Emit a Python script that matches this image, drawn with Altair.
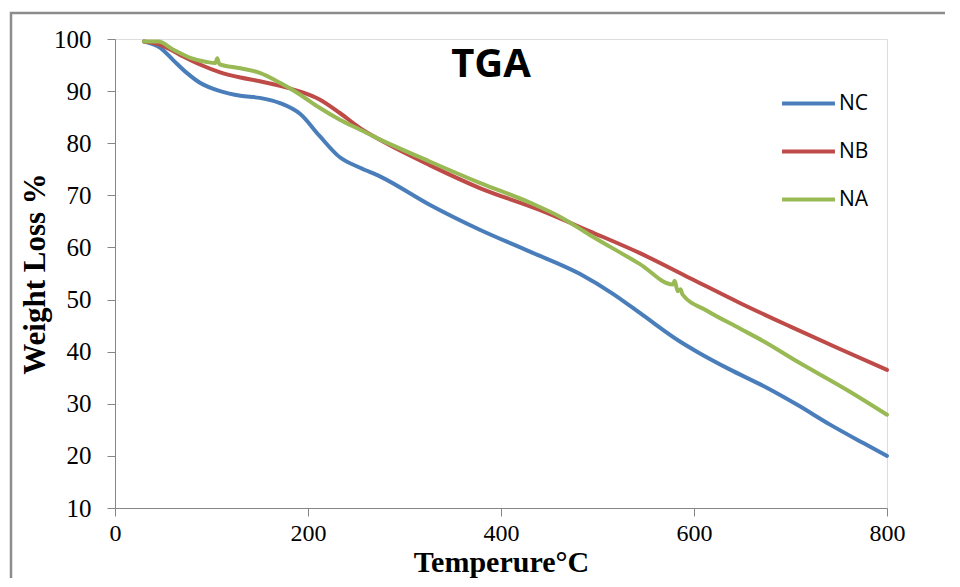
import altair as alt
import pandas as pd

# NC (blue)
nc_t = [30, 47, 60, 75, 88, 109, 130, 150, 171, 192, 212, 233, 254, 275, 326, 378,
        430, 482, 516, 547, 585, 603, 637, 672, 707, 741, 775, 800]
nc_w = [99.5, 98.3, 96.0, 93.4, 91.6, 90.0, 89.1, 88.7, 87.7, 85.6, 81.4, 77.3, 75.3,
        73.6, 68.2, 63.4, 59.2, 54.9, 51.1, 47.0, 42.0, 40.0, 36.6, 33.4, 29.8, 26.0, 22.5, 20.0]

# NB (red)
nb_t = [30, 47, 67, 88, 109, 130, 150, 171, 192, 212, 233, 254, 275, 326, 378, 440,
        492, 544, 596, 648, 700, 750, 800]
nb_w = [99.5, 98.9, 97.0, 95.1, 93.6, 92.6, 91.9, 91.0, 89.9, 88.4, 85.8, 82.9, 80.6,
        75.8, 71.4, 67.2, 63.1, 58.9, 54.1, 49.3, 44.8, 40.6, 36.5]

# NA (green)
na_t = [30, 45, 60, 78, 95, 104, 106, 108, 130, 150, 171, 192, 212, 233, 254, 275, 326,
        378, 430, 461, 492, 544, 578, 580, 583, 586, 588, 613, 648, 672, 707, 759, 800]
na_w = [99.5, 99.5, 98.0, 96.4, 95.6, 95.4, 96.3, 95.2, 94.4, 93.5, 91.6, 89.3, 86.8,
        84.5, 82.6, 80.7, 76.5, 72.4, 68.6, 65.9, 62.4, 56.8, 52.9, 53.6, 51.6, 52.0,
        51.0, 47.9, 44.4, 42.0, 38.1, 32.6, 27.9]

series = ["NC", "NB", "NA"]
colors = ["#4a7ebb", "#be4b48", "#98b954"]
title_text = "TGA"

rows = []
for name, ts, ws in [("NC", nc_t, nc_w), ("NB", nb_t, nb_w), ("NA", na_t, na_w)]:
    for t, w in zip(ts, ws):
        rows.append({"series": name, "T": t, "W": w})
df = pd.DataFrame(rows)

W_PLOT, H_PLOT = 772, 469

lines = alt.Chart(df).mark_line(strokeWidth=4, interpolate="monotone", strokeCap="round").encode(
    x=alt.X("T:Q", scale=alt.Scale(domain=[0, 800], nice=False),
            axis=alt.Axis(values=[0, 200, 400, 600, 800], title="Temperure°C",
                          titleFont="Liberation Serif", titleFontSize=30, titleFontWeight="bold",
                          titleColor="black", titlePadding=2,
                          labelFont="Liberation Serif", labelFontSize=24, labelColor="black",
                          labelPadding=5, labelFlush=False, tickSize=8, tickColor="#868686",
                          domainColor="#868686", grid=False)),
    y=alt.Y("W:Q", scale=alt.Scale(domain=[10, 100], nice=False),
            axis=alt.Axis(values=list(range(10, 101, 10)), title="Weight Loss %",
                          titleFont="Liberation Serif", titleFontSize=31, titleFontWeight="bold",
                          titleColor="black", titlePadding=2,
                          labelFont="Liberation Serif", labelFontSize=25, labelColor="black",
                          labelPadding=16, labelFlush=False, tickSize=8, tickColor="#868686",
                          domainColor="#868686", grid=False)),
    color=alt.Color("series:N", scale=alt.Scale(domain=series, range=colors), sort=series,
                    legend=alt.Legend(title=None, orient="none", legendX=665, legendY=36,
                                      symbolType="stroke", symbolSize=2800, symbolStrokeWidth=4,
                                      labelFont="Open Sans", labelFontSize=21, labelColor="black",
                                      labelOffset=2, rowPadding=9)),
)

title = alt.Chart(pd.DataFrame({"label": [title_text]})).mark_text(
    font="Open Sans", fontSize=40, fontWeight="bold", color="black",
    align="center", baseline="alphabetic"
).encode(text="label:N", x=alt.value(376), y=alt.value(38))

frame = alt.Chart(pd.DataFrame({"a": [0]})).mark_rect(
    fill=None, stroke="#8c8c8c", strokeWidth=2.5
).encode(x=alt.value(-104), x2=alt.value(950), y=alt.value(-26), y2=alt.value(700))

chart = alt.layer(frame, lines, title).properties(
    width=W_PLOT, height=H_PLOT,
    autosize=alt.AutoSizeParams(type="none"),
    padding={"left": 107, "top": 31, "right": 58, "bottom": 70},
).configure_view(stroke=None).configure(background="white")

chart.save("out.html", embed_options={"renderer": "svg", "actions": False})
